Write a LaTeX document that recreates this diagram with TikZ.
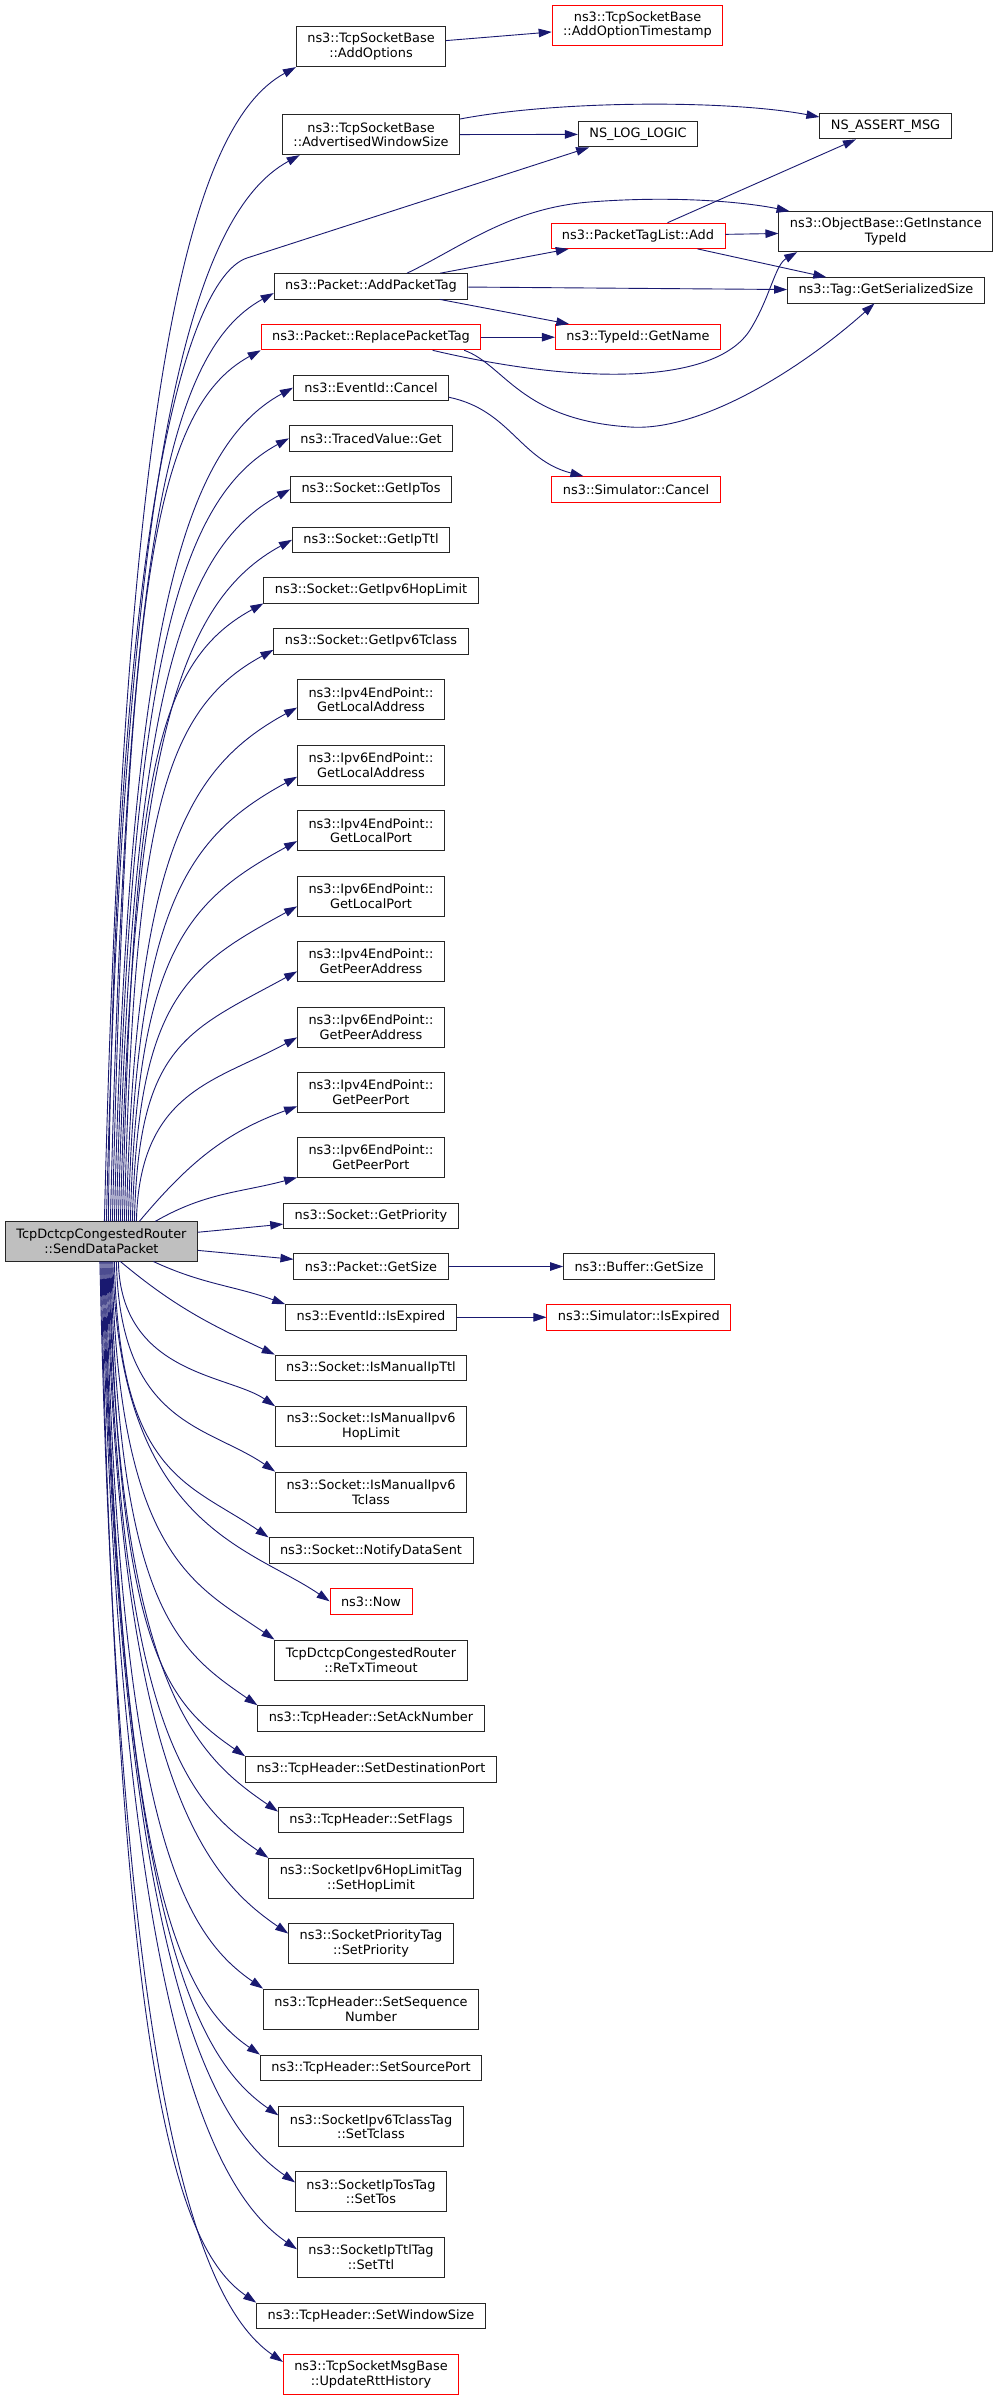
\documentclass[tikz,border=0pt]{standalone}
\usepackage{fontspec}
\setmainfont{DejaVu Sans}
\usetikzlibrary{arrows.meta,calc}
\definecolor{midblue}{HTML}{191970}

\begin{document}
\begin{tikzpicture}[x=1pt,y=-1pt]
  % Define styles
  \tikzset{
    fn/.style={draw=black!85, line width=0.9pt, fill=white, inner xsep=11pt, inner ysep=2pt,
      minimum height=25.3pt, align=center, font=\fontsize{12.9}{14.7}\selectfont},
    fn2/.style={fn, minimum height=40pt},
    miss/.style={draw=red},
    root/.style={fn2, minimum height=39.3pt, fill=black!25},
    call/.style={draw=midblue, line width=0.9pt, -{Triangle[length=13pt,width=8.5pt]}}
  }

  % Macros for the calls leaving the root upwards and downwards
  \def\callup#1#2{\draw[call] let \p1=(#1), \p2=([xshift=#2pt]main.north),
      \n1={(\y1-\y2)/1pt}, \n2={min(1,\n1/250)} in
      (\p2) .. controls ({\x2+0.017*\n1*1pt},{\y1-0.29*\n1*1pt})
      and ({\x1-110*\n2*1pt},{\y1-60*\n2*1pt}) .. (\p1);}
  \def\calldown#1#2{\draw[call] let \p1=(#1), \p2=([xshift=#2pt]main.south),
      \n1={(\y2-\y1)/1pt}, \n2={min(1,\n1/250)} in
      (\p2) .. controls ({\x2+0.017*\n1*1pt},{\y1+0.22*\n1*1pt})
      and ({\x1-80*\n2*1pt},{\y1+55*\n2*1pt}) .. (\p1);}

  \fill[white] (0,0) rectangle (995,2400);
  \useasboundingbox (0,0) rectangle (995,2400);

  % Root
  \node[root] (main) at (101.4,1241.4) {TcpDctcpCongestedRouter\\::SendDataPacket};

  % Direct callees
  \node[fn2] (addopt) at (371,46.7) {ns3::TcpSocketBase\\::AddOptions};
  \node[fn2] (advwin) at (371,134.7) {ns3::TcpSocketBase\\::AdvertisedWindowSize};
  \node[fn] (addpkt) at (371,286.3) {ns3::Packet::AddPacketTag};
  \node[fn, miss] (replace) at (371,337.2) {ns3::Packet::ReplacePacketTag};
  \node[fn] (cancel) at (371,387.7) {ns3::EventId::Cancel};
  \node[fn] (traced) at (371,438.3) {ns3::TracedValue::Get};
  \node[fn] (gettos) at (371,489.3) {ns3::Socket::GetIpTos};
  \node[fn] (getttl) at (371,539.8) {ns3::Socket::GetIpTtl};
  \node[fn] (gethop) at (371,590.3) {ns3::Socket::GetIpv6HopLimit};
  \node[fn] (gettcl) at (371,641.3) {ns3::Socket::GetIpv6Tclass};
  \node[fn2] (lav4) at (371,699.8) {ns3::Ipv4EndPoint::\\GetLocalAddress};
  \node[fn2] (lav6) at (371,765) {ns3::Ipv6EndPoint::\\GetLocalAddress};
  \node[fn2] (lpv4) at (371,830.7) {ns3::Ipv4EndPoint::\\GetLocalPort};
  \node[fn2] (lpv6) at (371,896) {ns3::Ipv6EndPoint::\\GetLocalPort};
  \node[fn2] (pav4) at (371,961) {ns3::Ipv4EndPoint::\\GetPeerAddress};
  \node[fn2] (pav6) at (371,1027) {ns3::Ipv6EndPoint::\\GetPeerAddress};
  \node[fn2] (ppv4) at (371,1092) {ns3::Ipv4EndPoint::\\GetPeerPort};
  \node[fn2] (ppv6) at (371,1157) {ns3::Ipv6EndPoint::\\GetPeerPort};
  \node[fn] (prio) at (371,1215.8) {ns3::Socket::GetPriority};
  \node[fn] (pktsize) at (371,1266.5) {ns3::Packet::GetSize};
  \node[fn] (isexp) at (371,1317.3) {ns3::EventId::IsExpired};
  \node[fn] (manttl) at (371,1367.7) {ns3::Socket::IsManualIpTtl};
  \node[fn2] (manhop) at (371,1426.7) {ns3::Socket::IsManualIpv6\\HopLimit};
  \node[fn2] (mantcl) at (371,1492) {ns3::Socket::IsManualIpv6\\Tclass};
  \node[fn] (notify) at (371,1550.5) {ns3::Socket::NotifyDataSent};
  \node[fn, miss] (now) at (371,1601.3) {ns3::Now};
  \node[fn2] (retx) at (371,1660) {TcpDctcpCongestedRouter\\::ReTxTimeout};
  \node[fn] (setack) at (371,1718.3) {ns3::TcpHeader::SetAckNumber};
  \node[fn] (setdst) at (371,1769.3) {ns3::TcpHeader::SetDestinationPort};
  \node[fn] (setflags) at (371,1819.7) {ns3::TcpHeader::SetFlags};
  \node[fn2] (sethop) at (371,1878.3) {ns3::SocketIpv6HopLimitTag\\::SetHopLimit};
  \node[fn2] (setprio) at (371,1943.7) {ns3::SocketPriorityTag\\::SetPriority};
  \node[fn2] (setseq) at (371,2009) {ns3::TcpHeader::SetSequence\\Number};
  \node[fn] (setsrc) at (371,2067.7) {ns3::TcpHeader::SetSourcePort};
  \node[fn2] (settcl) at (371,2126.7) {ns3::SocketIpv6TclassTag\\::SetTclass};
  \node[fn2] (settos) at (371,2191.7) {ns3::SocketIpTosTag\\::SetTos};
  \node[fn2] (setttl) at (371,2257) {ns3::SocketIpTtlTag\\::SetTtl};
  \node[fn] (setwin) at (371,2315.7) {ns3::TcpHeader::SetWindowSize};
  \node[fn2, miss] (rtthist) at (371,2374.3) {ns3::TcpSocketMsgBase\\::UpdateRttHistory};

  % Second level
  \node[fn2, miss] (addts) at (637.5,25) {ns3::TcpSocketBase\\::AddOptionTimestamp};
  \node[fn] (nslog) at (638,134.3) {NS\_LOG\_LOGIC};
  \node[fn, miss] (ptladd) at (638,235.8) {ns3::PacketTagList::Add};
  \node[fn, miss] (getname) at (638,337.2) {ns3::TypeId::GetName};
  \node[fn, miss] (simcancel) at (636,489.3) {ns3::Simulator::Cancel};
  \node[fn] (bufsize) at (639,1266.5) {ns3::Buffer::GetSize};
  \node[fn, miss] (simexp) at (638.8,1317.3) {ns3::Simulator::IsExpired};

  % Third level
  \node[fn] (nsassert) at (885.5,126.3) {NS\_ASSERT\_MSG};
  \node[fn2] (objtid) at (885.8,231.7) {ns3::ObjectBase::GetInstance\\TypeId};
  \node[fn] (tagsize) at (885.9,290.3) {ns3::Tag::GetSerializedSize};

  % Calls from the root
  \foreach \t/\xs in {addopt.south west/3, advwin.196/5, addpkt.184/9, replace.south west/11,
      cancel.west/13, traced.west/15, gettos.west/17, getttl.west/19, gethop.south west/21,
      gettcl.185/23, lav4.186/25, lav6.189/27, lpv4.188/29, lpv6.188/31, pav4.188/33, pav6.188/35}
    \callup{\t}{\xs};
  \foreach \t/\xs in {manhop.north west/17, mantcl.north west/15, notify.north west/13,
      now.west/11.5, retx.north west/10.5, setack.north west/9.5, setdst.north west/8.5,
      setflags.175/7.5, sethop.north west/6.5, setprio.173/5.5, setseq.north west/4.5,
      setsrc.north west/3.5, settcl.173/2.5, settos.173.5/1.5, setttl.174.6/0.5,
      setwin.north west/-0.5, rtthist.172/-1.5}
    \calldown{\t}{\xs};
  \draw[call] ([xshift=7pt]main.north) .. controls (115,500) and (190,277) .. (247,258) -- (nslog.195);
  \draw[call] ([xshift=38pt]main.north) to[out=50,in=200] (ppv4.191);
  \draw[call] ([xshift=54pt]main.north) to[out=30,in=195] (ppv6.south west);
  \draw[call] (main) -- (prio);
  \draw[call] (main) -- (pktsize);
  \draw[call] ([xshift=52pt]main.south) to[out=-25,in=160] (isexp.north west);
  \draw[call] ([xshift=19pt]main.south) to[out=-40,in=155] (manttl.north west);

  % Calls between callees
  \draw[call] (addopt) -- (addts);
  \draw[call] (advwin) -- (nslog);
  \draw[call] (advwin.10) .. controls (560,100) and (730,100) .. (nsassert.172);
  \draw[call] (addpkt.20) .. controls (460,248) and (510,208) .. (590,202)
    .. controls (680,195) and (750,203) .. (objtid.168);
  \draw[call] (addpkt) -- (ptladd);
  \draw[call] (addpkt) -- (tagsize);
  \draw[call] (addpkt) -- (getname);
  \draw[call] (replace) -- (getname);
  \draw[call] (replace.348) .. controls (580,385) and (715,385) .. (750,330)
    .. controls (770,298) and (775,265) .. (objtid.193);
  \draw[call] (replace.352) .. controls (505,365) and (520,420) .. (630,427)
    .. controls (700,432) and (800,370) .. (tagsize.229);
  \draw[call] (ptladd) -- (nsassert);
  \draw[call] (ptladd) -- (objtid);
  \draw[call] (ptladd) -- (tagsize);
  \draw[call] (cancel.353) .. controls (510,410) and (520,460) .. (simcancel.166);
  \draw[call] (pktsize) -- (bufsize);
  \draw[call] (isexp) -- (simexp);
\end{tikzpicture}
\end{document}
